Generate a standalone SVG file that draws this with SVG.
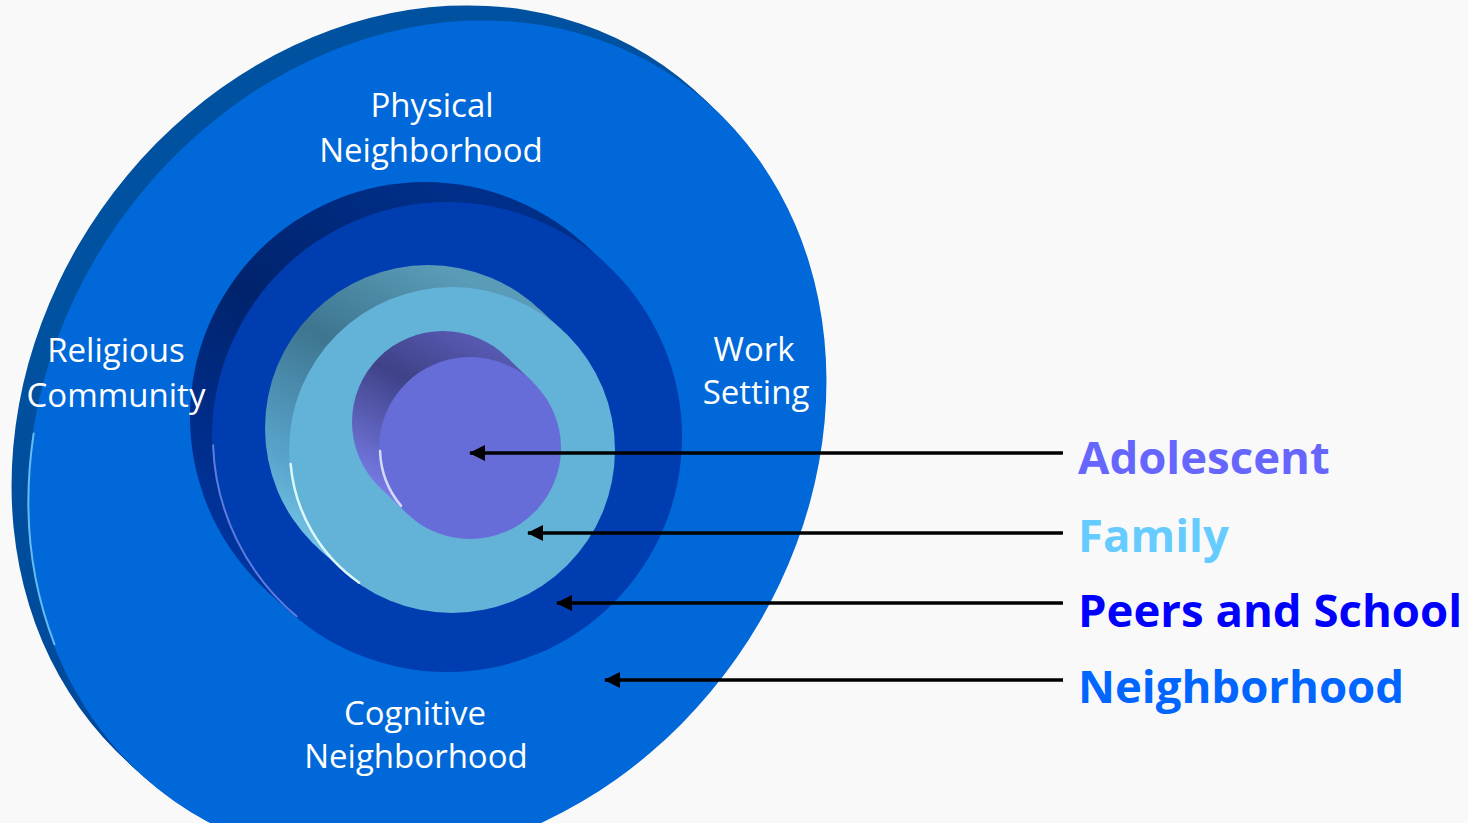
<svg xmlns="http://www.w3.org/2000/svg" width="1468" height="823" viewBox="0 0 1468 823">
<defs>
<style>
.lbl{font-family:"Open Sans","Liberation Sans",sans-serif;font-size:33px;fill:#ffffff;text-anchor:middle}
.key{font-family:"Open Sans","Liberation Sans",sans-serif;font-size:45.5px;font-weight:bold}
.conn{stroke:#000;stroke-width:3.5;fill:none;marker-end:url(#ah)}
.hl{fill:none;stroke-linecap:round}
.oside{fill:url(#gOut)}
</style>
<marker id="ah" markerUnits="userSpaceOnUse" viewBox="0 0 16 16" refX="15" refY="8" markerWidth="16" markerHeight="16" orient="auto">
<path d="M0,0 L16,8 L0,16 Z" fill="#000"/>
</marker>
<linearGradient id="gOut" gradientUnits="userSpaceOnUse" x1="430" y1="0" x2="30" y2="650">
<stop offset="0" stop-color="#00519f"/><stop offset="0.5" stop-color="#00489a"/><stop offset="0.85" stop-color="#0060c4"/><stop offset="1" stop-color="#2f9ae8"/>
</linearGradient>
<linearGradient id="gPeer" gradientUnits="userSpaceOnUse" x1="440" y1="180" x2="200" y2="600">
<stop offset="0" stop-color="#002f8a"/><stop offset="0.4" stop-color="#00236c"/><stop offset="1" stop-color="#0038aa"/>
</linearGradient>
<linearGradient id="gFam" gradientUnits="userSpaceOnUse" x1="440" y1="265" x2="280" y2="560">
<stop offset="0" stop-color="#5a9cb8"/><stop offset="0.35" stop-color="#3e7590"/><stop offset="0.75" stop-color="#5aa6cf"/><stop offset="1" stop-color="#7fd0ee"/>
</linearGradient>
<linearGradient id="gAdo" gradientUnits="userSpaceOnUse" x1="460" y1="332" x2="370" y2="500">
<stop offset="0" stop-color="#5659b0"/><stop offset="0.35" stop-color="#3f4287"/><stop offset="1" stop-color="#7d82f0"/>
</linearGradient>
</defs>
<rect width="1468" height="823" fill="#f9f9f9"/>

<g id="neighborhood-disc">
<g class="oside">
<ellipse rx="440" ry="378" transform="translate(411,426) rotate(-55)"/>
<ellipse rx="440" ry="378" transform="translate(414.2,429) rotate(-55)"/>
<ellipse rx="440" ry="378" transform="translate(417.4,432) rotate(-55)"/>
<ellipse rx="440" ry="378" transform="translate(420.6,435) rotate(-55)"/>
<ellipse rx="440" ry="378" transform="translate(423.8,438) rotate(-55)"/>
</g>
<ellipse rx="440" ry="378" transform="translate(427,441) rotate(-55)" fill="#0068d8"/>
<path class="hl" transform="translate(427,441) rotate(-55)" d="M-219.5,-326.5 A439,377 0 0 0 -380.2,-188.5" stroke="#8fe0ff" stroke-width="2" stroke-opacity="0.7"/>
</g>

<g id="peers-disc">
<circle cx="425" cy="417" r="235" fill="url(#gPeer)"/>
<polygon points="605.2,263.1 583.2,243.1 266.8,590.9 288.8,610.9" fill="url(#gPeer)"/>
<circle cx="447" cy="437" r="235" fill="#003db0"/>
<path class="hl" d="M213.1,445.2 A234,234 0 0 0 296.6,616.3" stroke="#9aa8ff" stroke-width="2" stroke-opacity="0.6"/>
</g>

<g id="family-disc">
<circle cx="428" cy="428" r="163" fill="url(#gFam)"/>
<polygon points="562,329.9 538,307.9 318,548.1 342,570.1" fill="url(#gFam)"/>
<circle cx="452" cy="450" r="163" fill="#63b2d8"/>
<path class="hl" d="M290.6,464.1 A162,162 0 0 0 359.1,582.7" stroke="#e8ffff" stroke-width="2.5" stroke-opacity="0.9"/>
</g>

<g id="adolescent-disc">
<circle cx="443" cy="422" r="91" fill="url(#gAdo)"/>
<polygon points="533.1,382.5 506.1,356.5 379.9,487.5 406.9,513.5" fill="url(#gAdo)"/>
<circle cx="470" cy="448" r="91" fill="#676dd8"/>
<path class="hl" d="M380.05,451.1 A90,90 0 0 0 401.1,505.9" stroke="#e0e4ff" stroke-width="2.5" stroke-opacity="0.9"/>
</g>

<g id="ring-labels">
<text class="lbl" x="432" y="117">Physical</text>
<text class="lbl" x="431" y="162">Neighborhood</text>
<text class="lbl" x="116" y="362">Religious</text>
<text class="lbl" x="116" y="407">Community</text>
<text class="lbl" x="754" y="361">Work</text>
<text class="lbl" x="756" y="404">Setting</text>
<text class="lbl" x="415" y="725">Cognitive</text>
<text class="lbl" x="416" y="768">Neighborhood</text>
</g>

<g id="connectors">
<line class="conn" x1="1063" y1="453" x2="470" y2="453"/>
<line class="conn" x1="1063" y1="533" x2="528" y2="533"/>
<line class="conn" x1="1063" y1="603" x2="557" y2="603"/>
<line class="conn" x1="1063" y1="680" x2="605" y2="680"/>
</g>

<g id="legend">
<text class="key" x="1078" y="474" fill="#6666ff">Adolescent</text>
<text class="key" x="1078" y="552" fill="#66ccff">Family</text>
<text class="key" x="1078" y="627" fill="#0000ff">Peers and School</text>
<text class="key" x="1078" y="703" fill="#0066ff">Neighborhood</text>
</g>
</svg>
